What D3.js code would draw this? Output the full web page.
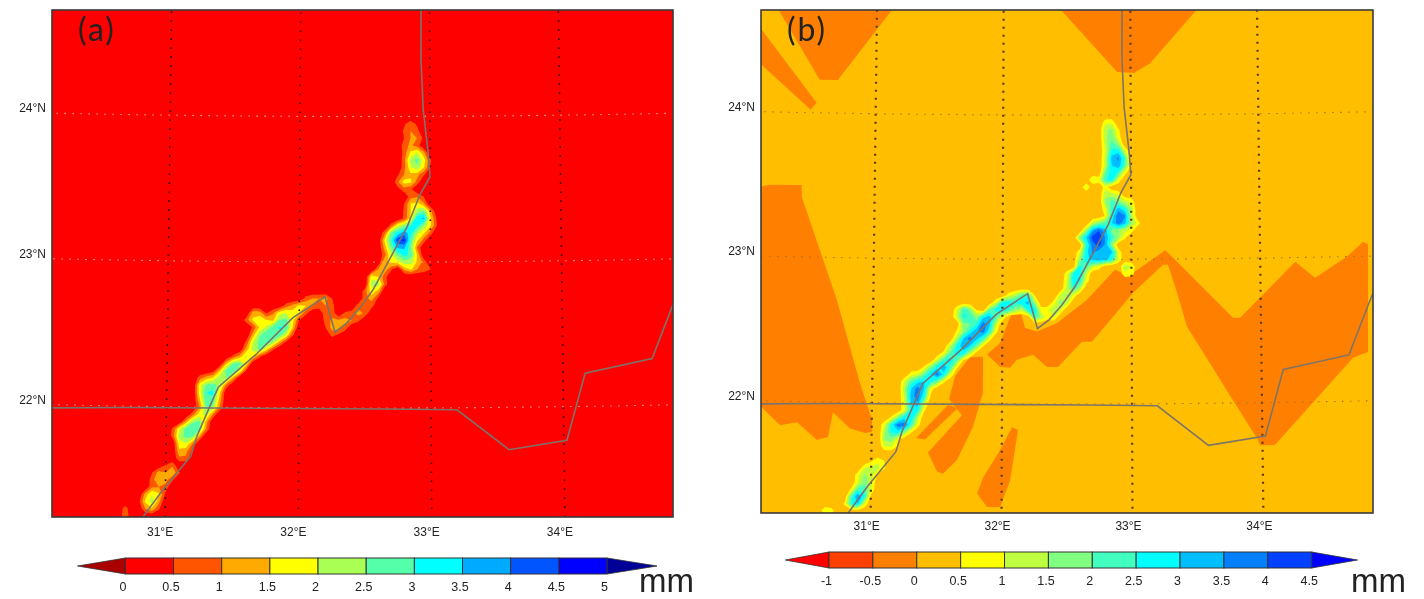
<!DOCTYPE html>
<html>
<head>
<meta charset="utf-8">
<title>Rainfall maps</title>
<script src="https://d3js.org/d3.v7.min.js"></script>
<style>
  html, body { margin: 0; background: #fff; }
  svg { display: block; filter: blur(0.6px); }
  text { font-family: "Liberation Sans", sans-serif; fill: #222; }
</style>
</head>
<body>
<svg id="chart" width="1424" height="599"></svg>
<script>
// colour levels, mm
var levelsA = [0, 0.5, 1, 1.5, 2, 2.5, 3, 3.5, 4, 4.5, 5];
var boxesA = ["#ff0000", "#ff5500", "#ffaa00", "#ffff00", "#aaff55", "#55ffaa", "#00ffff", "#00aaff", "#0055ff", "#0000ff"];
var tipsA = ["#aa0000", "#000099"];
var levelsB = [-1, -0.5, 0, 0.5, 1, 1.5, 2, 2.5, 3, 3.5, 4, 4.5];
var boxesB = ["#ff4000", "#ff8000", "#ffbf00", "#ffff00", "#bfff40", "#80ff80", "#40ffbf", "#00ffff", "#00bfff", "#0080ff", "#0040ff"];
var tipsB = ["#ff0000", "#0000ff"];

var lonTicks = [31, 32, 33, 34];
var latTicks = [22, 23, 24];

// river and border, lon/lat
var nile = [[32.935,24.8],[32.933,24.39],[32.948,24.05],[32.985,23.75],[32.999,23.585],[32.92,23.46],[32.821,23.24],[32.561,22.81],
  [32.462,22.686],[32.363,22.583],[32.272,22.52],[32.195,22.762],[31.952,22.618],[31.673,22.364],[31.39,22.137],[31.328,22.007],
  [31.232,21.80],[31.188,21.664],[30.97,21.417],[30.80,21.2]];
var border = [[30.0,21.975],[30.70,21.99],[32.659,21.993],[33.195,21.986],[33.585,21.71],[34.023,21.77],[34.167,22.227],[34.676,22.32],[34.844,22.69],[35.0,23.0]];

// patches of panel b that fall in the -0.5 to 0 mm band
var lowB = [
  [[30.16,24.8],[31.185,24.8],[30.70,24.23],[30.557,24.23]],
  [[30.03,24.64],[30.536,24.07],[30.49,24.02],[30.04,24.37]],
  [[32.405,24.775],[33.568,24.77],[33.154,24.358],[33.028,24.29],[32.894,24.297]],
  [[30.0,23.457],[30.18,23.495],[30.43,23.498],[30.433,23.415],[30.718,22.706],[30.905,22.135],[31.002,21.88],[31.003,21.80],[30.95,21.79],
   [30.833,21.82],[30.701,21.93],[30.666,21.758],[30.581,21.737],[30.426,21.857],[30.296,21.834],[30.156,21.952],[30.0,21.99]],
  [[31.752,22.323],[31.852,22.325],[31.853,22.076],[31.778,21.84],[31.657,21.61],[31.55,21.515],[31.505,21.53],[31.434,21.66],[31.693,21.92],[31.592,22.03],[31.637,22.19]],
  [[31.585,21.99],[31.341,21.76],[31.41,21.75],[31.66,21.97]],
  [[32.078,21.84],[32.124,21.82],[32.064,21.47],[31.988,21.287],[31.889,21.287],[31.812,21.38],[31.857,21.49],[31.986,21.68]],
  [[31.883,22.34],[31.983,22.42],[32.082,22.65],[32.136,22.65],[32.175,22.526],[32.268,22.50],[32.423,22.56],[32.655,22.72],[32.873,22.93],
   [32.973,22.88],[33.262,23.06],[33.324,23.008],[33.785,22.59],[33.839,22.588],[34.272,22.97],[34.424,22.857],[34.675,23.0],[34.802,23.10],
   [34.84,23.08],[34.823,22.338],[34.707,22.30],[34.095,21.706],[33.98,21.707],[33.966,21.742],[33.777,22.02],[33.428,22.53],[33.353,22.765],
   [33.284,22.96],[33.245,22.96],[33.012,22.767],[32.693,22.43],[32.616,22.43],[32.43,22.256],[32.346,22.256],[32.238,22.34],[32.114,22.305],
   [32.06,22.25],[31.983,22.256]]
];

// rain on a 0.05 degree grid: [lat, first column, values]; column 0 is 30E
var rainA = [
  [21.25,14,[1]],[21.30,14,[.8]],[21.30,17,[1,1.4,.6]],[21.35,16,[.3,1.6,2.2,1.2]],[21.40,17,[1.2,2,1.6,.4]],[21.45,18,[.9,1,.8]],
  [21.50,18,[.8,1.5,1.2,.6]],[21.55,18,[.5,1.2,1,1.4,.6]],[21.60,20,[.5,.9]],[21.65,22,[.9,.9]],[21.70,22,[1.4,1.2,.4]],[21.75,22,[1.8,2,1]],
  [21.80,21,[.7,2.2,2.7,2.6,1.2]],[21.85,21,[.6,1.9,2.7,3,2.6,1]],[21.90,23,[1.2,2.4,2.6,1.3]],[21.95,24,[.8,1.8,2.2,1]],[22.00,25,[1,2.6,2.4,1]],
  [22.05,25,[1.4,2.9,2.9,1.3]],[22.10,25,[1.8,3,3.1,1.6]],[22.15,25,[1.8,2.6,2.8,2.3,.8]],[22.20,25,[.8,1.3,1.6,2.4,2.5,1.2]],
  [22.25,27,[.3,1.4,2.7,2.9,1.9,.4]],[22.30,29,[1.4,2.5,2.7,1.7]],[22.35,30,[.6,1.2,2.1,1.6,.6]],[22.40,32,[1.2,2.2,2.6,1.7,.6]],
  [22.45,32,[.6,2,2.7,2.9,2.4,1.3,.4]],[22.50,33,[1.2,2.4,2.9,3,2.8,2,.6]],[22.50,45,[.7,.4]],[22.55,33,[.6,1.6,2.1,2.7,3.1,2.9,1.5]],
  [22.55,44,[.5,1.2,1.2,.8]],[22.60,32,[.8,1.6,1.9,1.5,1.4,2.5,2.7,1.7,.5]],[22.60,44,[.7,1.1,1.1,1.2,1,.6]],
  [22.65,33,[1.3,1.2,.4,.9,1.8,2,1.7,1.5,.7]],[22.65,44,[.9,.8]],[22.65,47,[.6,.8,1.2,.9]],[22.70,38,[.7,1.2,1.6,1.5,1,.8,1,.7]],[22.70,49,[.8,1,.7]],
  [22.75,41,[.7,1,1,1.2,.5]],[22.75,50,[.8,1.2,.4]],[22.80,50,[.8,1.8,1.3]],[22.85,51,[2.2,2.4,.8]],[22.90,51,[1.8,1.5,.7]],
  [22.95,52,[1,1.3,.6]],[22.95,56,[1.2,1.6,1,.8,.5]],[23.00,53,[1.4,1.6,1.8,2.3,2.2,1.4,.8]],[23.05,53,[.8,2,2.6,3.2,2.8,1.4]],
  [23.10,53,[1.2,2.6,3.6,3.6,2.6,.9]],[23.15,53,[1.6,3,4.4,4.6,2.8,1.6,.8]],[23.20,53,[.8,2.6,3.2,3.8,3.2,2.2,1.6,.8]],
  [23.25,54,[.7,1.9,2.4,3,3.2,2.4,1.6,.5]],[23.30,56,[.6,1.6,3.4,3.6,1.6,.4]],[23.35,56,[.6,1.5,2.2,2.6,1.2]],[23.40,56,[.5,1.5,1.7,1.1]],
  [23.45,57,[.8,.9,.5]],[23.50,55,[.3,.8,.6]],[23.55,55,[.9,1.7,1.6,.8]],[23.60,55,[.4,1,1.4,1.2,.6]],[23.65,56,[.8,1.9,2.4,1.6,.5]],
  [23.70,56,[.8,2.2,2.7,1.8,.6]],[23.75,56,[.7,1.6,2,1.2]],[23.80,56,[.8,1.1,.8]],[23.85,56,[.5,1,1,.4]],[23.90,56,[.6,1,.7]],[23.95,56,[.4,.8,.4]]
];
var rainB = [
  [21.25,13,[1,.8]],[21.30,16,[.6,2.4,3,1]],[21.35,17,[2.2,3.6,2.6,.3]],[21.40,17,[.6,2.2,2.4,1]],[21.45,18,[1,1.8,1.2]],[21.50,18,[.9,1.6,1.2,.4]],
  [21.55,19,[1,1.1,1.2,.6]],[21.60,20,[.4,.9,.5]],[21.70,22,[1,1.1,.5]],[21.75,22,[1.6,1.8,.8]],[21.80,22,[1.4,2.6,2.8,1.8,.6]],
  [21.85,22,[1,2.6,3.8,3.8,2.4,.8]],[21.90,23,[.6,1.8,2.8,3,1.4]],[21.95,25,[.9,2.6,2.6,.6]],[22.00,25,[1,3,3.4,1.4]],[22.05,25,[1.2,3.2,3.8,2.6,.4]],
  [22.10,25,[1.4,3,3.8,3,.8]],[22.15,25,[1.1,2.2,2.8,3,2.6,1.8,.6]],[22.20,26,[.8,1,2,3,3.8,2.8,1]],[22.25,28,[.6,1.8,2.8,3.4,2.4,.6]],
  [22.30,30,[1.2,2.4,2.8,2,.5]],[22.35,31,[.7,2,2.8,2.8,1.4,.3]],[22.40,32,[1.2,2.6,3.4,3,2,.6]],[22.45,33,[1.4,3,3.8,3.2,2.4,.8]],
  [22.50,33,[.6,1.6,2.6,3.4,3.8,2.6,.7]],[22.55,34,[1.8,2,2.4,3.8,3.2,1.2]],[22.60,33,[1.2,2.6,2.4,1.6,2.8,3.2,2.2,1]],[22.60,45,[2.4,1.4,.8,1]],
  [22.65,33,[1,2.4,1.8,.4]],[22.65,38,[2,2.6,2.8,2.4,1.6,1.2,2.6,2.8,.8,.9,1.4,1]],[22.70,39,[1,2.6,2.8,2.6,2.8,3.2,1.6]],[22.70,48,[.8,1.8,1.2]],
  [22.75,41,[.8,1.4,2.2,2.4,.5]],[22.75,49,[1.2,1.6,.9]],[22.80,50,[1.2,2.4,1.4]],[22.85,50,[1,2.8,2.6,.8]],[22.90,50,[.8,2.6,2.8,1.2]],[22.90,59,[.9,.8]],
  [22.95,52,[2.6,2.2,1.2,.8]],[22.95,59,[1.4,1]],[23.00,52,[1.6,2.8,3.2,3.4,3.2,2.6,1]],[23.05,52,[.9,2.8,3.6,3.2,3.4,3,.9]],[23.10,53,[2.4,3.8,4.2,3.4,1.6]],
  [23.15,52,[1.8,3,4.2,4.4,3.4,2.4,1.6,.6]],[23.20,53,[1.6,3.4,4,3.2,1.8,1.6,1.2,.8]],[23.25,54,[1.2,1.8,2.2,3,3.8,3.2,1.6,.8]],[23.30,56,[.6,2.6,4,3.6,1.4]],
  [23.35,56,[1,2.4,3.2,2.6,1.4]],[23.40,56,[1.6,2.2,1.8,1.2,.9]],[23.45,56,[1.4,1.2,.9]],[23.50,53,[1.1]],[23.50,56,[.8]],[23.55,54,[1.1,.9,2.4,2.8,1]],
  [23.60,56,[2,2.8,2.4,.8]],[23.65,56,[1.2,3,3.4,2.2,.5]],[23.70,56,[1.2,3.2,3.6,2.4]],[23.75,56,[1,2.6,2.8,1.2]],[23.80,56,[1.2,2.2,1.6]],
  [23.85,56,[1.4,1.8,.8]],[23.90,56,[1.4,1.6,.6]],[23.95,56,[.8,.9]]
];

var svg = d3.select("#chart");
var proj = d3.geoConicConformal().parallels([30, 30]).rotate([-32.5, 0]).center([0, 23]).scale(1000).translate([0, 0]);
var cols = 101, rows = 57;
var gridLon = d3.scaleLinear().domain([0.5, cols + 0.5]).range([30, 30 + 0.05 * cols]);
var gridLat = d3.scaleLinear().domain([0.5, rows + 0.5]).range([21.2, 21.2 + 0.05 * rows]);

function drawPanel(p, idx) {
  // geographic position -> page pixel
  var sx = d3.scaleLinear().domain([proj([31, 22])[0], proj([34, 22])[0]]).range(p.x22);
  var sy = d3.scaleLinear().domain([proj([32.5, 22])[1], proj([32.5, 24])[1]]).range(p.yMid);
  var at = function (lon, lat) { var q = proj([lon, lat]); return [sx(q[0]), sy(q[1])]; };
  var cell = d3.geoPath(d3.geoTransform({ point: function (i, j) { var q = at(gridLon(i), gridLat(j)); this.stream.point(q[0], q[1]); } }));
  var line = d3.line().x(function (d) { return at(d[0], d[1])[0]; }).y(function (d) { return at(d[0], d[1])[1]; });

  var id = "clip" + idx;
  svg.append("clipPath").attr("id", id).append("rect")
    .attr("x", p.frame[0]).attr("y", p.frame[1]).attr("width", p.frame[2] - p.frame[0]).attr("height", p.frame[3] - p.frame[1]);
  var g = svg.append("g").attr("clip-path", "url(#" + id + ")");

  g.append("rect").attr("x", p.frame[0]).attr("y", p.frame[1]).attr("width", p.frame[2] - p.frame[0]).attr("height", p.frame[3] - p.frame[1])
    .attr("fill", p.base);

  if (p.low) {
    g.selectAll("path.low").data(p.low).enter().append("path").attr("class", "low")
      .attr("d", function (d) { return line(d) + "Z"; }).attr("fill", "#ff8000");
  }

  // rain field, contoured the way the original was
  var grid = new Array(cols * rows).fill(0);
  p.rain.forEach(function (r) {
    var j = Math.round((r[0] - 21.2) / 0.05);
    r[2].forEach(function (v, k) { grid[j * cols + r[1] + k] = v; });
  });
  var first = p.levels.filter(function (l) { return l >= 0.5; });
  var bands = d3.contours().size([cols, rows]).thresholds(first)(grid);
  g.selectAll("path.rain").data(bands).enter().append("path").attr("class", "rain")
    .attr("d", cell)
    .attr("fill", function (d) { return p.boxes[p.levels.indexOf(d.value)]; });

  // graticule
  lonTicks.forEach(function (lon) {
    g.append("path").attr("d", line(d3.range(21, 25.01, 0.5).map(function (lat) { return [lon, lat]; })))
      .attr("fill", "none").attr("stroke", p.lonDot).attr("stroke-width", p.dotW).attr("stroke-dasharray", p.lonDash);
  });
  latTicks.forEach(function (lat) {
    g.append("path").attr("d", line(d3.range(30, 35.01, 0.25).map(function (lon) { return [lon, lat]; })))
      .attr("fill", "none").attr("stroke", p.latDot).attr("stroke-width", 1.1).attr("stroke-dasharray", "1.5 6.5");
  });

  [nile, border].forEach(function (l) {
    g.append("path").attr("d", line(l)).attr("fill", "none").attr("stroke", "#7c7468").attr("stroke-width", 1.6);
  });

  svg.append("rect").attr("x", p.frame[0]).attr("y", p.frame[1]).attr("width", p.frame[2] - p.frame[0]).attr("height", p.frame[3] - p.frame[1])
    .attr("fill", "none").attr("stroke", "#3a3a3a").attr("stroke-width", 1.6);

  // tick labels
  svg.selectAll("text.lon" + idx).data(lonTicks).enter().append("text")
    .attr("x", function (d) { return at(d, 21.25)[0] + p.lonShift; }).attr("y", p.lonY)
    .attr("text-anchor", "middle").attr("font-size", 12).text(function (d) { return d + "°E"; });
  svg.selectAll("text.lat" + idx).data(latTicks).enter().append("text")
    .attr("x", p.frame[0] - 6).attr("y", function (d) { return at(30.1, d)[1] + p.latShift; })
    .attr("text-anchor", "end").attr("font-size", 12).text(function (d) { return d + "°N"; });

  svg.append("text").attr("x", p.tag[0]).attr("y", p.tag[1]).attr("font-size", 32).attr("letter-spacing", 2)
    .style("font-family", "Lato, sans-serif").text(p.name);

  // colour bar
  var bar = d3.scaleLinear().domain([p.levels[0], p.levels[p.levels.length - 1]]).range(p.barX);
  var step = p.levels[1] - p.levels[0];
  var mid = (p.barY[0] + p.barY[1]) / 2;
  var last = p.levels[p.levels.length - 1];
  var cb = svg.append("g");
  [[p.tipX[0], p.levels[0], p.tips[0]], [p.tipX[1], last, p.tips[1]]].forEach(function (t) {
    cb.append("path").attr("d", "M" + t[0] + "," + mid + "L" + bar(t[1]) + "," + p.barY[0] + "V" + p.barY[1] + "Z")
      .attr("fill", t[2]).attr("stroke", "#333").attr("stroke-width", 0.8);
  });
  cb.selectAll("rect").data(p.boxes).enter().append("rect")
    .attr("x", function (d, i) { return bar(p.levels[i]); })
    .attr("width", bar(step) - bar(0)).attr("y", p.barY[0]).attr("height", p.barY[1] - p.barY[0])
    .attr("fill", function (d) { return d; }).attr("stroke", "#333").attr("stroke-width", 1);

  var axis = d3.axisBottom(bar).tickValues(p.levels).tickSize(0).tickPadding(0).tickFormat(function (d) { return String(d); });
  svg.append("g").attr("transform", "translate(-3," + (p.barY[1] + 8) + ")").call(axis)
    .call(function (a) { a.select(".domain").remove(); })
    .call(function (a) { a.selectAll("text").attr("font-size", 12.5).style("font-family", "Liberation Sans, sans-serif").attr("fill", "#222"); });

  svg.append("text").attr("x", p.mm[0]).attr("y", p.mm[1]).attr("font-size", 33).attr("fill", "#222").text("mm");
}

drawPanel({ name: "(a)", frame: [52, 10, 673, 517], base: "#ff0000", x22: [166.5, 563.5], yMid: [408, 116.5], rain: rainA, low: null,
  levels: levelsA, boxes: boxesA, tips: tipsA, lonDot: "#301010", latDot: "#e8b0a0", dotW: 1.6, lonDash: "1.6 7.4", lonShift: -5, lonY: 536, latShift: -1,
  tag: [78, 41], barX: [125.4, 607], barY: [558, 574], tipX: [77.5, 657], mm: [639, 592] }, 0);

drawPanel({ name: "(b)", frame: [761, 10, 1373, 513], base: "#ffbf00", x22: [872, 1262], yMid: [404, 115], rain: rainB, low: lowB,
  levels: levelsB, boxes: boxesB, tips: tipsB, lonDot: "#5a3a10", latDot: "#a87020", dotW: 2.2, lonDash: "2 6", lonShift: -4, lonY: 530, latShift: -1,
  tag: [787, 41], barX: [829, 1311.7], barY: [552, 568], tipX: [785.4, 1357.5], mm: [1351, 592] }, 1);
</script>
</body>
</html>
